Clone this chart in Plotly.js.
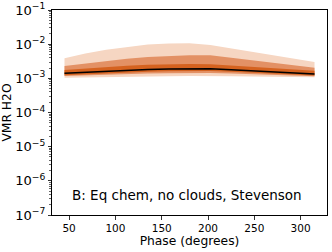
<!DOCTYPE html>
<html>
<head>
<meta charset="utf-8">
<script src="https://cdn.plot.ly/plotly-3.0.1.min.js"></script>
<style>html,body{margin:0;padding:0;background:#fff;}#chart{width:332px;height:252px;}</style>
</head>
<body>
<div id="chart"></div>
<script>
const phase = [45, 67.5, 90, 112.5, 135, 157.5, 180, 202.5, 225, 247.5, 270, 292.5, 315];
const median = [1.40e-3, 1.50e-3, 1.62e-3, 1.72e-3, 1.82e-3, 1.88e-3, 1.92e-3, 1.90e-3, 1.78e-3, 1.66e-3, 1.54e-3, 1.43e-3, 1.34e-3];
const sig1Low = [1.24e-3, 1.32e-3, 1.42e-3, 1.49e-3, 1.57e-3, 1.61e-3, 1.64e-3, 1.63e-3, 1.55e-3, 1.45e-3, 1.36e-3, 1.28e-3, 1.21e-3];
const sig1High = [1.75e-3, 1.94e-3, 2.15e-3, 2.33e-3, 2.49e-3, 2.59e-3, 2.63e-3, 2.59e-3, 2.38e-3, 2.18e-3, 1.98e-3, 1.82e-3, 1.67e-3];
const sig2Low = [1.17e-3, 1.23e-3, 1.29e-3, 1.33e-3, 1.38e-3, 1.41e-3, 1.44e-3, 1.43e-3, 1.38e-3, 1.32e-3, 1.26e-3, 1.20e-3, 1.15e-3];
const sig2High = [2.30e-3, 2.72e-3, 3.22e-3, 3.73e-3, 4.21e-3, 4.57e-3, 4.75e-3, 4.72e-3, 4.02e-3, 3.37e-3, 2.85e-3, 2.41e-3, 2.03e-3];
const sig3Low = [1.04e-3, 1.07e-3, 1.10e-3, 1.12e-3, 1.15e-3, 1.16e-3, 1.17e-3, 1.18e-3, 1.16e-3, 1.14e-3, 1.11e-3, 1.09e-3, 1.07e-3];
const sig3High = [3.86e-3, 5.33e-3, 6.89e-3, 8.38e-3, 9.78e-3, 1.05e-2, 1.07e-2, 9.46e-3, 7.52e-3, 5.98e-3, 4.75e-3, 3.78e-3, 3.01e-3];
const labelText = 'B: Eq chem, no clouds, Stevenson';

function band(lo, hi, color) {
  return [
    {x: phase, y: lo, type: 'scatter', mode: 'lines', line: {width: 0, color: color}, hoverinfo: 'skip', showlegend: false},
    {x: phase, y: hi, type: 'scatter', mode: 'lines', line: {width: 0, color: color}, fill: 'tonexty', fillcolor: color, hoverinfo: 'skip', showlegend: false}
  ];
}

const data = [
  ...band(sig3Low, sig3High, '#f6d6c2'),
  ...band(sig2Low, sig2High, '#e39165'),
  ...band(sig1Low, sig1High, '#d5621f'),
  {x: phase, y: median, type: 'scatter', mode: 'lines', line: {width: 1.5, color: '#000000'}, showlegend: false}
];

const font = {family: 'DejaVu Sans', size: 10.5, color: '#000'};
const titleFont = {family: 'DejaVu Sans', size: 12.3, color: '#000'};
const layout = {
  width: 332, height: 252,
  margin: {l: 52, r: 5, t: 10, b: 37},
  paper_bgcolor: '#fff', plot_bgcolor: '#fff',
  showlegend: false,
  font: font,
  xaxis: {
    range: [31.5, 328.5],
    tickvals: [50, 100, 150, 200, 250, 300],
    ticks: 'outside', ticklen: 3.5, tickwidth: 0.8, tickcolor: '#000',
    showgrid: false, zeroline: false,
    showline: true, linecolor: '#000', linewidth: 1, mirror: true,
    tickfont: font,
    title: {text: 'Phase (degrees)', font: titleFont, standoff: 1}
  },
  yaxis: {
    type: 'log',
    range: [-7, -1],
    dtick: 1,
    exponentformat: 'power',
    ticks: 'outside', ticklen: 3.5, tickwidth: 0.8, tickcolor: '#000',
    minor: {ticks: 'outside', ticklen: 2, tickwidth: 0.6, tickcolor: '#000', dtick: 'D1'},
    showgrid: false, zeroline: false,
    showline: true, linecolor: '#000', linewidth: 1, mirror: true,
    tickfont: font,
    title: {text: 'VMR H2O', font: titleFont, standoff: 1}
  },
  annotations: [{
    x: 177.5, y: -6.41, xref: 'x', yref: 'y',
    text: labelText, showarrow: false,
    font: {family: 'DejaVu Sans', size: 13.5, color: '#000'},
    xanchor: 'center', yanchor: 'middle'
  }]
};

Plotly.newPlot('chart', data, layout, {staticPlot: true, displayModeBar: false});
</script>
</body>
</html>
